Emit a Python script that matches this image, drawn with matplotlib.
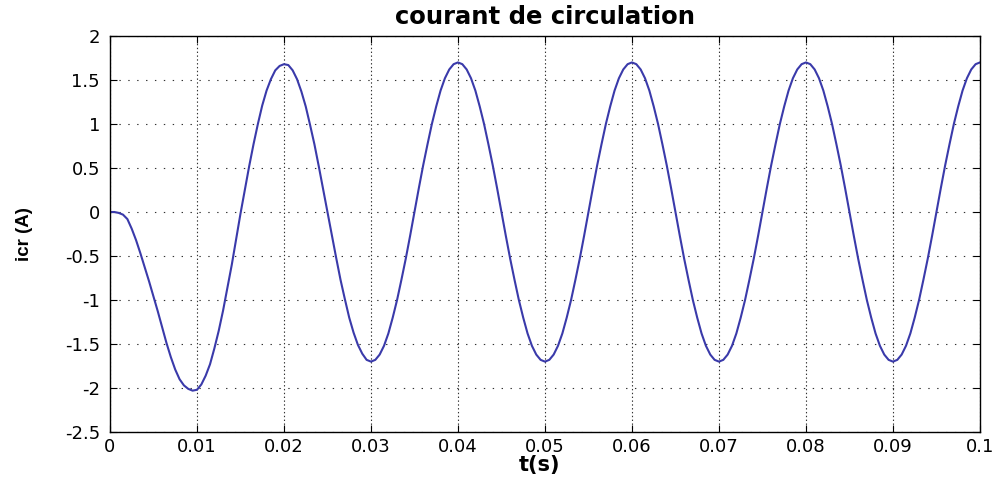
import numpy as np
import matplotlib
matplotlib.use("Agg")
import matplotlib.pyplot as plt

# circulating current icr (A), sampled every 0.5 ms, one line per 10 ms
sample_step = 0.0005
icr = [
    0.00, 0.00, -0.01, -0.03, -0.08, -0.19, -0.32, -0.47, -0.63, -0.79,
    -0.96, -1.13, -1.31, -1.49, -1.65, -1.79, -1.90, -1.97, -2.01, -2.03,
    -2.02, -1.96, -1.86, -1.73, -1.55, -1.35, -1.12, -0.86, -0.60, -0.31,
    -0.02, 0.25, 0.52, 0.77, 1.00, 1.21, 1.38, 1.51, 1.61, 1.66,
    1.68, 1.67, 1.61, 1.51, 1.37, 1.20, 0.99, 0.77, 0.52, 0.26,
    0.00, -0.26, -0.52, -0.77, -0.99, -1.20, -1.37, -1.51, -1.61, -1.68,
    -1.70, -1.68, -1.62, -1.52, -1.38, -1.20, -1.00, -0.77, -0.53, -0.27,
    0.00, 0.27, 0.53, 0.77, 1.00, 1.20, 1.38, 1.52, 1.62, 1.68,
    1.70, 1.68, 1.62, 1.52, 1.38, 1.20, 1.00, 0.77, 0.53, 0.27,
    0.00, -0.27, -0.53, -0.77, -1.00, -1.20, -1.38, -1.52, -1.62, -1.68,
    -1.70, -1.68, -1.62, -1.52, -1.38, -1.20, -1.00, -0.77, -0.53, -0.27,
    0.00, 0.27, 0.53, 0.77, 1.00, 1.20, 1.38, 1.52, 1.62, 1.68,
    1.70, 1.68, 1.62, 1.52, 1.38, 1.20, 1.00, 0.77, 0.53, 0.27,
    0.00, -0.27, -0.53, -0.77, -1.00, -1.20, -1.38, -1.52, -1.62, -1.68,
    -1.70, -1.68, -1.62, -1.52, -1.38, -1.20, -1.00, -0.77, -0.53, -0.27,
    0.00, 0.27, 0.53, 0.77, 1.00, 1.20, 1.38, 1.52, 1.62, 1.68,
    1.70, 1.68, 1.62, 1.52, 1.38, 1.20, 1.00, 0.77, 0.53, 0.27,
    0.00, -0.27, -0.53, -0.77, -1.00, -1.20, -1.38, -1.52, -1.62, -1.68,
    -1.70, -1.68, -1.62, -1.52, -1.38, -1.20, -1.00, -0.77, -0.53, -0.27,
    0.00, 0.27, 0.53, 0.77, 1.00, 1.20, 1.38, 1.52, 1.62, 1.68,
    1.70,
]
t = np.arange(len(icr)) * sample_step

x_ticks = [0, 0.01, 0.02, 0.03, 0.04, 0.05, 0.06, 0.07, 0.08, 0.09, 0.1]
x_tick_labels = ["0", "0.01", "0.02", "0.03", "0.04", "0.05",
                 "0.06", "0.07", "0.08", "0.09", "0.1"]
y_ticks = [-2.5, -2, -1.5, -1, -0.5, 0, 0.5, 1, 1.5, 2]
y_tick_labels = ["-2.5", "-2", "-1.5", "-1", "-0.5", "0", "0.5", "1", "1.5", "2"]

plt.rcParams["axes.unicode_minus"] = False

fig = plt.figure(figsize=(9.97, 4.79), dpi=100)
ax = fig.add_axes([0.1103, 0.0981, 0.8726, 0.8267])

ax.plot(t, icr, color="#3a3aaa", lw=1.5)

ax.set_xlim(0, 0.1)
ax.set_ylim(-2.5, 2)
ax.set_xticks(x_ticks)
ax.set_xticklabels(x_tick_labels)
ax.set_yticks(y_ticks)
ax.set_yticklabels(y_tick_labels)

# matlab style dotted grid
ax.xaxis.grid(True, color="#333333", lw=0.8, linestyle=(0, (1.25, 2.2)))
ax.yaxis.grid(True, color="#333333", lw=0.8, linestyle=(0, (1.25, 6.75)))

ax.tick_params(direction="in", length=5, width=0.8, top=True, right=True,
               labelsize=13, colors="black")
ax.tick_params(axis="x", pad=4.0)
ax.tick_params(axis="y", pad=7.2)
for s in ax.spines.values():
    s.set_linewidth(1.0)
    s.set_color("black")

ax.set_title("courant de circulation", fontsize=17.5, fontweight="bold", pad=8.6)
ax.set_xlabel("t(s)", fontsize=15, fontweight="bold")
ax.xaxis.set_label_coords(0.494, -0.058)
ax.set_ylabel("icr (A)", fontsize=13.5, fontweight="bold", family="Liberation Sans")
ax.yaxis.set_label_coords(-0.089, 0.5)

fig.savefig("out.png", dpi=100, facecolor="white")
